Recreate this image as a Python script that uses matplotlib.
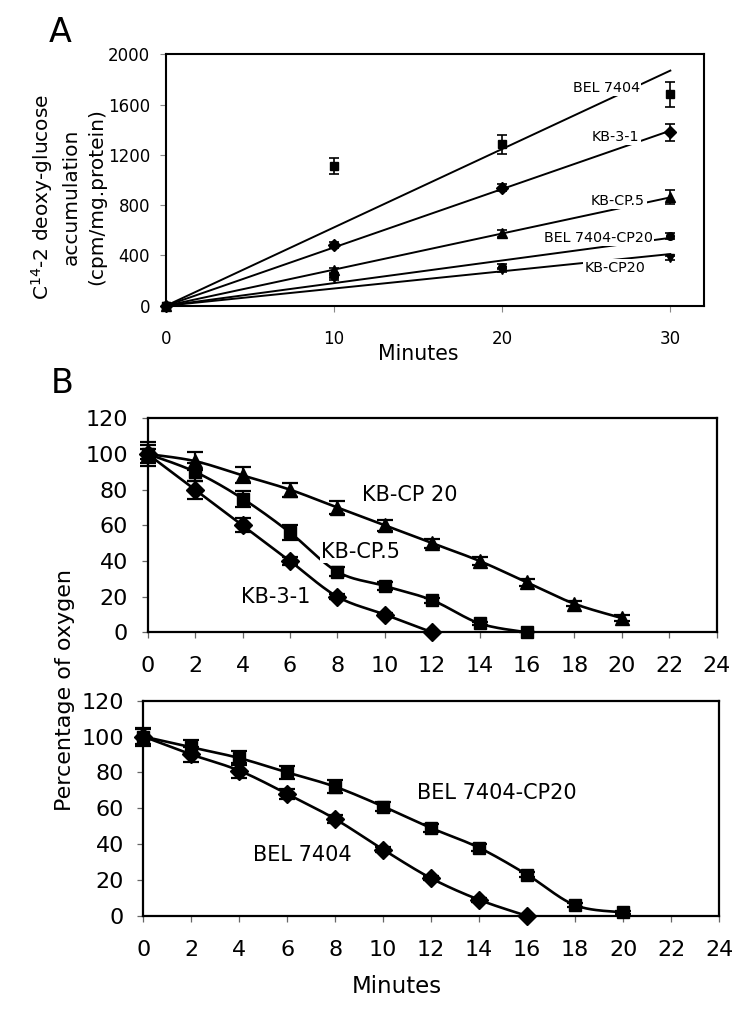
import numpy as np
import matplotlib
matplotlib.use("Agg")
import matplotlib.pyplot as plt

plt.rcParams['font.family'] = ['DejaVu Sans']

# ---------------- Panel A data ----------------
a_minutes = [0, 10, 20, 30]
a_bel7404 = [0, 1114, 1284, 1682]
a_bel7404_err = [0, 64, 76, 100]
a_kb31 = [0, 483, 939, 1379]
a_kb31_err = [0, 20, 30, 69]
a_kbcp5 = [0, 284, 576, 862]
a_kbcp5_err = [0, 20, 30, 55]
a_belcp20 = [0, 238, 310, 554]
a_belcp20_err = [0, 15, 20, 25]
a_kbcp20 = [0, 217, 285, 377]
a_kbcp20_err = [0, 12, 15, 17]
a_labels = ["BEL 7404", "KB-3-1", "KB-CP.5", "BEL 7404-CP20", "KB-CP20"]
a_xticks = [0, 10, 20, 30]
a_yticks = [0, 400, 800, 1200, 1600, 2000]

# ---------------- Panel B data ----------------
b_minutes = [0, 2, 4, 6, 8, 10, 12, 14, 16, 18, 20]
b_kbcp20 = [100, 96, 88, 80, 70, 60, 50, 40, 28, 16, 8]
b_kbcp20_err = [5, 5, 4.5, 4, 3.5, 3, 2.5, 2, 2, 1.5, 1.5]
b_kbcp5 = [100, 90, 75, 56, 34, 26, 18, 5, 0]
b_kbcp5_err = [6.5, 5, 4.5, 4, 2.5, 2, 1.5, 1, 0]
b_kb31 = [100, 80, 60, 40, 20, 10, 0]
b_kb31_err = [3, 5, 4, 2.5, 1.5, 1, 0]
b_belcp20 = [100, 94, 88, 80, 72, 61, 49, 38, 23, 6, 2]
b_belcp20_err = [5, 4, 4, 3.5, 3.5, 2.5, 2, 2, 1.5, 1, 1]
b_bel7404 = [100, 90, 81, 68, 54, 37, 21, 9, 0]
b_bel7404_err = [4, 4, 4, 3, 2, 1.5, 1, 1, 0]
b_xticks = list(range(0, 26, 2))
b_yticks = list(range(0, 140, 20))


def smooth(x, y, n=24):
    pts = np.column_stack([x, y]).astype(float)
    P = np.vstack([pts[0], pts, pts[-1]])
    out = []
    t = np.linspace(0, 1, n)[:, None]
    for i in range(1, len(P) - 2):
        p0, p1, p2, p3 = P[i - 1], P[i], P[i + 1], P[i + 2]
        c1 = p1 + (p2 - p0) / 6.0
        c2 = p2 - (p3 - p1) / 6.0
        seg = (1 - t) ** 3 * p1 + 3 * (1 - t) ** 2 * t * c1 + 3 * (1 - t) * t ** 2 * c2 + t ** 3 * p2
        out.append(seg if i == 1 else seg[1:])
    return np.vstack(out)


fig = plt.figure(figsize=(7.5, 10.09), dpi=100)

# ================= Panel A =================
axA = fig.add_axes([0.2213, 0.6970, 0.7173, 0.2492])
seriesA = [
    (a_bel7404, a_bel7404_err, 's', 5.5),
    (a_kb31, a_kb31_err, 'D', 6),
    (a_kbcp5, a_kbcp5_err, '^', 6.5),
    (a_belcp20, a_belcp20_err, 'o', 5.5),
    (a_kbcp20, a_kbcp20_err, 'v', 5.5),
]
xa = np.array(a_minutes, dtype=float)
label_pos = [(28.2, 1734), (28.15, 1344), (28.5, 833), (28.95, 541), (28.5, 302)]
for (vals, err, mk, ms), lab, (lx, ly) in zip(seriesA, a_labels, label_pos):
    v = np.array(vals, dtype=float)
    slope = np.sum(xa * v) / np.sum(xa * xa)
    xl = np.array([0, 30.0])
    axA.plot(xl, slope * xl, color='black', lw=1.4, zorder=2)
    axA.errorbar(xa, v, yerr=err, fmt='none', ecolor='black', elinewidth=1.2,
                 capsize=3.5, capthick=1.2, zorder=4)
    axA.plot(xa, v, linestyle='none', marker=mk, color='black', ms=ms, zorder=5,
             clip_on=False)
    axA.text(lx, ly, lab, ha='right', va='center', fontsize=10.3, zorder=3,
             bbox=dict(facecolor='white', edgecolor='none', pad=1.0))

axA.set_xlim(0, 32)
axA.set_ylim(0, 2000)
axA.set_xticks(a_xticks)
axA.set_yticks(a_yticks)
axA.tick_params(axis='both', labelsize=12, direction='out', length=4.5, width=0.8, color='#888888')
axA.tick_params(axis='x', pad=13)
axA.tick_params(axis='y', pad=7)
for s in axA.spines.values():
    s.set_linewidth(1.5)
fig.text(418 / 750, 1 - 354 / 1009, "Minutes", ha='center', va='center', fontsize=14.8)
fig.text(68 / 750, 1 - 197 / 1009,
         "C$^{14}$-2 deoxy-glucose\naccumulation\n(cpm/mg.protein)",
         ha='center', va='center', rotation=90, fontsize=14.5, linespacing=1.45,
         multialignment='center')
fig.text(60 / 750, 1 - 33 / 1009, "A", ha='center', va='center', fontsize=24)

# ================= Panel B =================
def draw_series(ax, x, y, err, mk, ms):
    x = np.array(x[:len(y)], dtype=float)
    y = np.array(y, dtype=float)
    c = smooth(x, y)
    ax.plot(c[:, 0], c[:, 1], color='black', lw=1.9, zorder=2, solid_capstyle='round',
            clip_on=False)
    eb = ax.errorbar(x, y, yerr=err, fmt='none', ecolor='black', elinewidth=1.6,
                     capsize=6, capthick=1.6, zorder=4)
    for art in eb.lines[1] + eb.lines[2]:
        art.set_clip_on(False)
    ax.plot(x, y, linestyle='none', marker=mk, color='black', ms=ms, zorder=5,
            clip_on=False)


def style_b(ax):
    ax.set_xlim(0, 24)
    ax.set_ylim(0, 120)
    ax.set_xticks(b_xticks)
    ax.set_yticks(b_yticks)
    ax.tick_params(axis='both', labelsize=16, direction='out', length=4.5, width=0.9, color='#666666')
    ax.tick_params(axis='x', pad=12.5)
    ax.tick_params(axis='y', pad=9.5)
    for s in ax.spines.values():
        s.set_linewidth(1.6)


axB1 = fig.add_axes([0.1969, 0.3733, 0.7587, 0.2121])
draw_series(axB1, b_minutes, b_kbcp20, b_kbcp20_err, '^', 10)
draw_series(axB1, b_minutes, b_kbcp5, b_kbcp5_err, 's', 8)
draw_series(axB1, b_minutes, b_kb31, b_kb31_err, 'D', 9)
style_b(axB1)
axB1.text(11.07, 77, "KB-CP 20", ha='center', va='center', fontsize=15, zorder=3)
axB1.text(8.98, 45.2, "KB-CP.5", ha='center', va='center', fontsize=15, zorder=3,
          bbox=dict(facecolor='white', edgecolor='none', pad=1.0))
axB1.text(5.38, 20, "KB-3-1", ha='center', va='center', fontsize=15, zorder=3)

axB2 = fig.add_axes([0.1911, 0.0922, 0.7676, 0.2134])
draw_series(axB2, b_minutes, b_belcp20, b_belcp20_err, 's', 8)
draw_series(axB2, b_minutes, b_bel7404, b_bel7404_err, 'D', 9)
style_b(axB2)
axB2.text(6.61, 34, "BEL 7404", ha='center', va='center', fontsize=15, zorder=3)
axB2.text(14.73, 68.4, "BEL 7404-CP20", ha='center', va='center', fontsize=15, zorder=3)

fig.text(396.7 / 750, 1 - 986.7 / 1009, "Minutes", ha='center', va='center', fontsize=16.5)
fig.text(65 / 750, 1 - 690 / 1009, "Percentage of oxygen", ha='center', va='center',
         rotation=90, fontsize=16)
fig.text(62 / 750, 1 - 383 / 1009, "B", ha='center', va='center', fontsize=24)

fig.savefig("out.png", dpi=100)
